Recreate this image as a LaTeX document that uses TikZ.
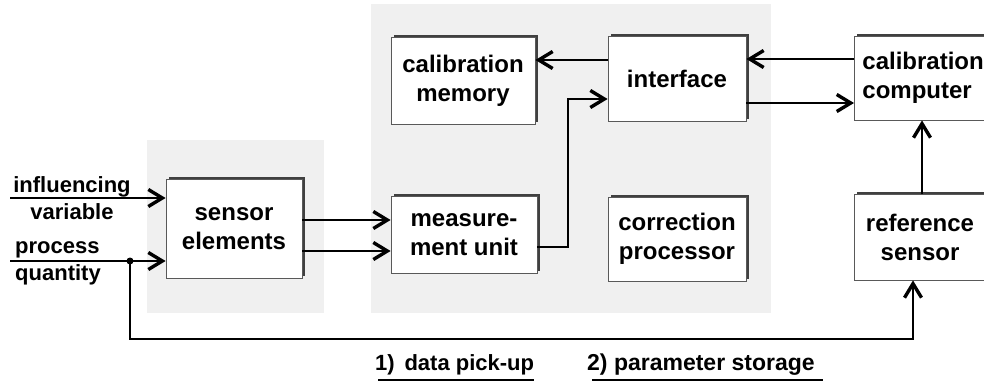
\documentclass[tikz,border=0pt]{standalone}
\usepackage{fontspec}
\setmainfont{Liberation Sans}
\usetikzlibrary{arrows.meta,shadows,calc}
\begin{document}
\begin{tikzpicture}[x=1pt,y=-1pt,
  every node/.style={font=\fontsize{24}{29}\selectfont\bfseries},
  box/.style={draw=black!65, fill=white, line width=0.8pt, align=center, inner sep=0pt,
    general shadow={shadow xshift=2.5pt, shadow yshift=2.5pt, fill=black!75}},
  area/.style={fill=black!6, draw=none},
  arr/.style={line width=2.3pt, -{Straight Barb[length=14pt,width=17pt,line width=3.4pt]}},
  lbl/.style={inner sep=0pt, font=\fontsize{22}{27}\selectfont\bfseries}]
\useasboundingbox (0,0) rectangle (984,391);
\fill[white] (0,0) rectangle (984,391);
% background areas
\path[area] (147,140) rectangle (324,313);
\path[area] (371,4) rectangle (771,313);
% boxes
\node[box, minimum width=136pt, minimum height=99pt] (sensor) at (234,228.5) {sensor\\elements};
\node[box, minimum width=146pt, minimum height=77pt] (meas) at (464,234.5) {measure-\\ment unit};
\node[box, minimum width=144pt, minimum height=87pt] (calmem) at (463,80.5) {calibration\\memory};
\node[box, minimum width=138pt, minimum height=85pt] (iface) at (677,78.5) {interface};
\node[box, minimum width=138pt, minimum height=84pt] (corr) at (677,239) {correction\\processor};
\node[box, minimum height=84pt, text width=130pt, inner xsep=8pt, align=left, anchor=west] (calcomp) at (854,78) {calibration\\computer};
\node[box, minimum width=132pt, minimum height=86pt] (ref) at (920,237) {reference\\sensor};
% input labels
\node[lbl, align=center] (infl) at (72,198) {influencing\\variable};
\node[lbl, align=left, anchor=west] (proc) at (15,263) {process\\quantity};
% coordinates
\coordinate (in1) at (10,198);
\coordinate (in2) at (10,261);
\coordinate (tap) at (130,261);
\coordinate (bl) at (130,339);
\coordinate (br) at (913,339);
\coordinate (s1) at (302,220);
\coordinate (s2) at (302,251);
\coordinate (bend1) at (568,247);
\coordinate (bend2) at (568,99);
\coordinate (vref) at (922,0);
% connectors
\draw[arr] (in1) -- (in1 -| sensor.west);
\draw[arr] (in2) -- (in2 -| sensor.west);
\fill (tap) circle (3.5pt);
\draw[arr] (s1 -| sensor.east) -- (s1 -| meas.west);
\draw[arr] (s2 -| sensor.east) -- (s2 -| meas.west);
\draw[arr] (meas.east |- bend1) -- (bend1) -- (bend2) -- (bend2 -| iface.west);
\draw[arr] (iface.west |- 0,60) -- (calmem.east |- 0,60);
\draw[arr] (calcomp.west |- 0,59) -- (iface.east |- 0,59);
\draw[arr] (iface.east |- 0,103) -- (calcomp.west |- 0,103);
\draw[arr] (vref |- ref.north) -- (vref |- calcomp.south);
\draw[arr] (tap) -- (bl) -- (br) -- (br |- ref.south);
% bottom labels
\node[lbl, anchor=base west] (l1) at (375,370) {1)\, data pick-up};
\node[lbl, anchor=base west, font=\fontsize{23}{27}\selectfont\bfseries] (l2) at (587,370) {2) parameter storage};
\draw[line width=1.6pt] ($(l1.base west)+(3,10)$) -- ($(l1.base east)+(0,10)$);
\draw[line width=1.6pt] ($(l2.base west)+(5,10)$) -- ($(l2.base east)+(8,10)$);
\end{tikzpicture}
\end{document}
